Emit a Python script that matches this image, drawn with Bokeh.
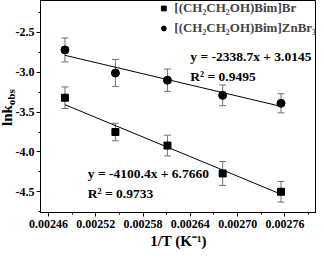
import math
from bokeh.plotting import figure
from bokeh.layouts import row
from bokeh.models import (ColumnDataSource, Whisker, TeeHead, Legend, LegendItem, Label, Div,
                          FixedTicker, Range1d, NumeralTickFormatter)
from bokeh.embed import file_html
from bokeh.resources import INLINE

# ---- data ----
inv_T = [0.002481, 0.002545, 0.002611, 0.002681, 0.002755]
ln_k_br = [-3.32, -3.75, -3.92, -4.27, -4.50]
err_br = [0.135, 0.11, 0.13, 0.15, 0.13]
ln_k_zn = [-2.72, -3.01, -3.10, -3.29, -3.39]
err_zn = [0.15, 0.17, 0.14, 0.13, 0.12]
slope_br, icpt_br, r2_br = -4100.4, 6.7660, 0.9733
slope_zn, icpt_zn, r2_zn = -2338.7, 3.0145, 0.9495
series_names = ["[(CH\u2082CH\u2082OH)Bim]Br", "[(CH\u2082CH\u2082OH)Bim]ZnBr\u2083"]
x_ticks = [0.00246, 0.00252, 0.00258, 0.00264, 0.00270, 0.00276]
y_ticks = [-4.5, -4.0, -3.5, -3.0, -2.5]

FONT = "Liberation Serif"

p = figure(width=304, height=251, x_range=Range1d(0.00245, 0.0028), y_range=Range1d(-4.76, -2.1),
           output_backend="svg", toolbar_location=None,
           min_border_left=24, min_border_right=0, min_border_top=0, min_border_bottom=35)
p.xgrid.visible = False
p.ygrid.visible = False
p.outline_line_color = "black"
p.outline_line_width = 1
p.background_fill_color = "white"
p.border_fill_color = "white"

for ax in (p.xaxis[0], p.yaxis[0]):
    ax.major_tick_out = 4
    ax.major_tick_in = 0
    ax.minor_tick_out = 2
    ax.minor_tick_in = 0
    ax.axis_line_color = "black"
    ax.major_tick_line_color = "black"
    ax.minor_tick_line_color = "black"
    ax.major_label_text_font = FONT
    ax.major_label_text_font_style = "bold"
    ax.major_label_text_font_size = "12px"
    ax.major_label_text_color = "black"
    ax.axis_label_text_font = FONT
    ax.axis_label_text_font_style = "bold"
    ax.axis_label_text_font_size = "15px"
    ax.axis_label_text_color = "black"

xminor = [x_ticks[0] - 0.00003] + [t + 0.00003 for t in x_ticks]
p.xaxis.ticker = FixedTicker(ticks=x_ticks, minor_ticks=xminor)
p.xaxis.formatter = NumeralTickFormatter(format="0.00000")
p.xaxis.major_label_standoff = 3
p.xaxis.axis_label = "1/T (K\u207b\u00b9)"
p.xaxis.axis_label_standoff = 2

yminor = [t + 0.25 for t in y_ticks] + [y_ticks[0] - 0.25]
p.yaxis.ticker = FixedTicker(ticks=y_ticks, minor_ticks=yminor)
p.yaxis.formatter = NumeralTickFormatter(format="0.0")
p.yaxis.major_label_standoff = 2

# fit lines
xf = [inv_T[0], inv_T[-1]]
p.line(xf, [slope_zn * v + icpt_zn for v in xf], line_color="black", line_width=1)
p.line(xf, [slope_br * v + icpt_br for v in xf], line_color="black", line_width=1)

# error bars
for ys, es in ((ln_k_br, err_br), (ln_k_zn, err_zn)):
    src = ColumnDataSource(dict(x=inv_T, upper=[a + b for a, b in zip(ys, es)],
                                lower=[a - b for a, b in zip(ys, es)]))
    w = Whisker(source=src, base="x", upper="upper", lower="lower",
                line_color="#707070", line_width=1,
                upper_head=TeeHead(size=7, line_color="#707070", line_width=1),
                lower_head=TeeHead(size=7, line_color="#707070", line_width=1))
    p.add_layout(w)

r_br = p.scatter(inv_T, ln_k_br, marker="square", size=7, fill_color="black", line_color="black")
r_zn = p.scatter(inv_T, ln_k_zn, marker="circle", size=8, fill_color="black", line_color="black")

legend = Legend(items=[LegendItem(label=series_names[0], renderers=[r_br]),
                       LegendItem(label=series_names[1], renderers=[r_zn])],
                location="top_right", border_line_color=None, background_fill_alpha=0,
                label_text_font=FONT, label_text_font_style="bold", label_text_font_size="13px",
                padding=4, margin=0, spacing=4, glyph_width=12, glyph_height=12,
                label_standoff=5, label_height=14)
p.add_layout(legend)

def add_text(x, y, text, size="13.5px"):
    p.add_layout(Label(x=x, y=y, text=text, text_font=FONT, text_font_style="bold",
                       text_font_size=size, text_baseline="middle", text_color="black"))

add_text(0.00264, -2.806, "y = %.1fx + %.4f" % (slope_zn, icpt_zn))
add_text(0.00264, -3.053, "R\u00b2 = %.4f" % r2_zn)
add_text(0.00251, -4.276, "y = %.1fx + %.4f" % (slope_br, icpt_br))
add_text(0.00251, -4.524, "R\u00b2 = %.4f" % r2_br)

# y-axis label  ln k_obs as real HTML text, rotated
ylab = Div(
    text=("<span style=\"position:absolute; left:-1px; top:126px; transform:rotate(-90deg); "
          "transform-origin:0 0; white-space:nowrap; font-family:'Liberation Serif'; "
          "font-weight:bold; font-size:15px; line-height:16px; color:black;\">"
          "lnk<sub style=\"font-size:11px; vertical-align:-3px;\">obs</sub></span>"),
    width=12, height=251, margin=0,
    styles={"overflow": "visible", "position": "relative", "z-index": "5"})

layout = row(ylab, p, spacing=0)
open("out.html", "w").write(file_html(layout, INLINE))
